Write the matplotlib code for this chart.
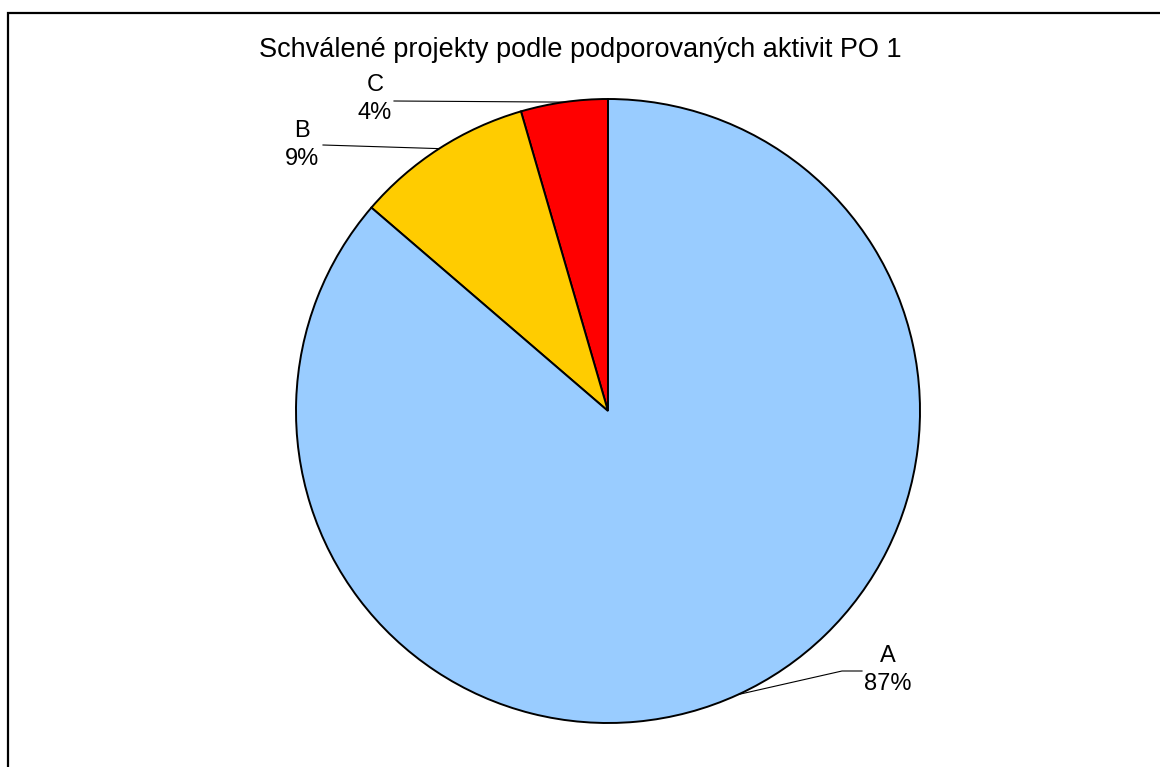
import numpy as np
import matplotlib.pyplot as plt
from matplotlib.patches import Rectangle

plt.rcParams['font.family'] = ['Liberation Sans', 'DejaVu Sans']

# data, drawn counterclockwise from the top
categories = ['C', 'B', 'A']
shares = [4.5, 9.2, 86.3]
pct_labels = ['4%', '9%', '87%']
colors = ['#FF0000', '#FFCC00', '#99CCFF']

title = 'Schválené projekty podle podporovaných aktivit PO 1'

W, H = 1160, 767
fig = plt.figure(figsize=(W / 100, H / 100), dpi=100)
ax = fig.add_axes([0, 0, 1, 1])

# chart border (runs off the right and bottom edges)
fig.patches.append(Rectangle((8 / W, -0.1), 1.2, (H - 13) / H + 0.1, transform=fig.transFigure,
                             fill=False, edgecolor='black', linewidth=1.6))

cx, cy, r = 608, H - 411, 312
wedges, _ = ax.pie(shares, colors=colors, startangle=90, counterclock=True,
                   center=(cx, cy), radius=r, frame=True,
                   wedgeprops=dict(edgecolor='black', linewidth=1.4))
ax.set_xlim(0, W)
ax.set_ylim(0, H)
ax.set_aspect('equal')
ax.axis('off')

ax.text(580, H - 50, title, ha='center', va='center', fontsize=19.5)

# label positions (pixels) and leader line start points
label_pos = {'C': (375, 99), 'B': (302, 145), 'A': (888, 670)}
line_start = {'C': [(394, 101)], 'B': [(323, 145)], 'A': [(862, 671), (842, 671)]}

for w, cat, pct in zip(wedges, categories, pct_labels):
    mid = np.deg2rad((w.theta1 + w.theta2) / 2)
    ex, ey = cx + r * np.cos(mid), cy + r * np.sin(mid)
    lx, ly = label_pos[cat]
    ax.text(lx, H - ly, f'{cat}\n{pct}', ha='center', va='center',
            fontsize=17, linespacing=1.4)
    pts = [(x, H - y) for x, y in line_start[cat]] + [(ex, ey)]
    xs, ys = zip(*pts)
    ax.plot(xs, ys, color='black', linewidth=0.8)

fig.savefig('out.png', dpi=100, facecolor='white')
